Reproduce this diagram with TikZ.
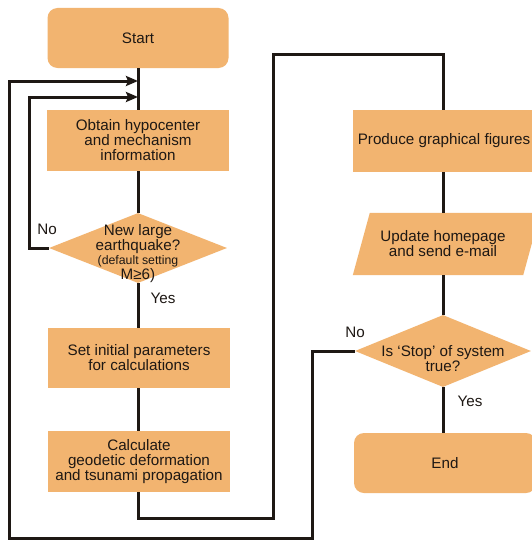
\documentclass[tikz,border=0pt]{standalone}
\usepackage{fontspec}
\setmainfont{Liberation Sans}
\usetikzlibrary{shapes.geometric,arrows.meta}
\definecolor{boxfill}{RGB}{242,180,112}
\definecolor{ink}{RGB}{30,24,20}
\newcommand{\smallfnt}{\fontsize{12.3}{11.5}\selectfont}
\begin{document}
\begin{tikzpicture}[x=1pt,y=-1pt,
  box/.style={rectangle,fill=boxfill,draw=none,inner sep=0pt,align=center,
    text=ink,font=\fontsize{15.2}{15}\selectfont},
  term/.style={box,rounded corners=10pt},
  dia/.style={diamond,fill=boxfill,draw=none,inner sep=0pt},
  txt/.style={align=center,inner sep=0pt,text=ink,font=\fontsize{15.2}{15}\selectfont},
  conn/.style={line width=3pt,draw=ink},
  arr/.style={conn,-{Stealth[length=12pt,width=10pt,inset=2pt]}},
  lbl/.style={inner sep=0pt,text=ink,font=\fontsize{15.2}{15}\selectfont}]
\useasboundingbox (0,0) rectangle (532,543);
\fill[white] (0,0) rectangle (532,543);
% left column
\node[term,minimum width=181pt,minimum height=60pt] (start) at (138,38) {Start};
\node[box,minimum width=182pt,minimum height=61pt] (obt) at (138,140.5) {Obtain hypocenter\\and mechanism\\information};
\node[dia,minimum width=178pt,minimum height=70pt] (d1) at (138,248) {};
\node[txt] (d1t) at (138,254) {New large\\earthquake?\\[-1pt]\smallfnt (default setting\\M≥6)};
\node[box,minimum width=182pt,minimum height=60pt] (set) at (139,358) {Set initial parameters\\for calculations};
\node[box,minimum width=182pt,minimum height=61pt] (calc) at (139,461.5) {Calculate\\geodetic deformation\\and tsunami propagation};
% right column
\node[box,minimum width=182pt,minimum height=62pt] (prod) at (444,141) {Produce graphical figures};
\node[inner sep=0pt,minimum width=187pt,minimum height=62pt] (upd) at (446.5,244) {};
\fill[boxfill] ([xshift=17pt]upd.north west) -- (upd.north east) -- ([xshift=-17pt]upd.south east) -- (upd.south west) -- cycle;
\node[txt] (updt) at (443,244) {Update homepage\\and send e-mail};
\node[dia,minimum width=176pt,minimum height=72pt] (d2) at (443,351) {};
\node[txt] (d2t) at (443,359) {Is ‘Stop’ of system\\true?};
\node[term,minimum width=182pt,minimum height=60pt] (end) at (445,463) {End};
% helper coordinates
\coordinate (m1) at (138,81);
\coordinate (m2) at (138,97);
\coordinate (k1) at (29,97);
\coordinate (b1) at (273,518);
\coordinate (t1) at (273,55);
\coordinate (n1) at (312,538);
\coordinate (n2) at (9,538);
% connectors
\draw[conn] (start.south) -- (obt.north);
\draw[conn] (obt.south) -- (d1.north);
\draw[conn] (d1.south) -- (set.north -| d1.south);
\draw[conn] (set.south -| d1.south) -- (calc.north -| d1.south);
\draw[conn] (calc.south -| d1.south) |- (b1) -- (t1) -| (prod.north -| d2.north);
\draw[conn] (prod.south -| d2.north) -- (upd.north -| d2.north);
\draw[conn] (upd.south -| d2.north) -- (d2.north);
\draw[conn] (d2.south) -- (end.north -| d2.south);
\draw[arr] (d1.west) -| (k1) -- (m2);
\draw[arr] (d2.west) -| (n1) -- (n2) |- (m1);
% labels
\node[lbl] (no1) at (47,229) {No};
\node[lbl] (yes1) at (163,298) {Yes};
\node[lbl] (no2) at (355,332) {No};
\node[lbl] (yes2) at (470,401) {Yes};
\end{tikzpicture}
\end{document}
